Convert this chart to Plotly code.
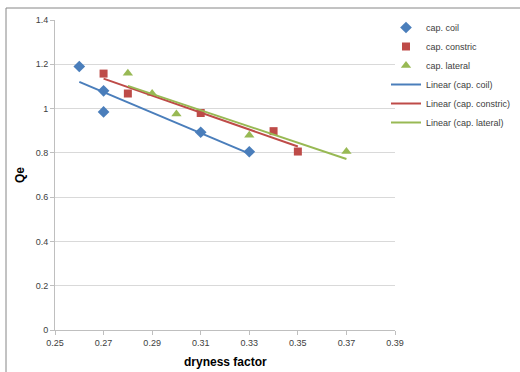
import numpy as np
import plotly.graph_objects as go

coil_x = [0.26, 0.27, 0.27, 0.31, 0.33]
coil_y = [1.19, 1.08, 0.985, 0.893, 0.805]
constric_x = [0.27, 0.28, 0.31, 0.34, 0.35]
constric_y = [1.158, 1.068, 0.98, 0.898, 0.806]
lateral_x = [0.28, 0.29, 0.30, 0.33, 0.37]
lateral_y = [1.16, 1.068, 0.975, 0.88, 0.806]

names = ["cap. coil", "cap. constric", "cap. lateral"]
colors = ["#4a7ebb", "#be4b48", "#98b954"]
symbols = ["diamond", "square", "triangle-up"]
sizes = [9, 8, 9]
series = [(coil_x, coil_y), (constric_x, constric_y), (lateral_x, lateral_y)]

x_ticks = [0.25, 0.27, 0.29, 0.31, 0.33, 0.35, 0.37, 0.39]
y_ticks = [0, 0.2, 0.4, 0.6, 0.8, 1.0, 1.2, 1.4]

font = "Liberation Sans, Arial"
fig = go.Figure()
for (xs, ys), n, c, s, sz in zip(series, names, colors, symbols, sizes):
    fig.add_trace(go.Scatter(x=xs, y=ys, mode="markers", name=n,
                             marker=dict(color=c, symbol=s, size=sz)))
for (xs, ys), n, c in zip(series, names, colors):
    m, b = np.polyfit(xs, ys, 1)
    xl = np.array([min(xs), max(xs)])
    fig.add_trace(go.Scatter(x=xl, y=m * xl + b, mode="lines", name=f"Linear ({n})",
                             line=dict(color=c, width=2)))

fig.update_layout(
    width=520, height=372,
    margin=dict(l=55, r=125, t=20, b=42, autoexpand=False),
    paper_bgcolor="white", plot_bgcolor="white",
    font=dict(family=font, size=9, color="#404040"),
    showlegend=True,
    legend=dict(xref="container", yref="container", x=386/520, y=1 - 13/372,
                xanchor="left", yanchor="top",
                font=dict(family=font, size=9, color="#404040"),
                tracegroupgap=0, itemwidth=30, bgcolor="rgba(0,0,0,0)"),
    xaxis=dict(range=[0.25, 0.39], tickvals=x_ticks, ticktext=[f"{v:.2f}" for v in x_ticks],
               showgrid=False, zeroline=False, showline=True, linecolor="#bfbfbf",
               ticks="outside", ticklen=4, tickcolor="#bfbfbf", automargin=False),
    yaxis=dict(range=[0, 1.4], tickvals=y_ticks, ticktext=["0", "0.2", "0.4", "0.6", "0.8", "1", "1.2", "1.4"],
               showgrid=True, gridcolor="#d9d9d9", zeroline=False, showline=True, linecolor="#bfbfbf",
               ticks="outside", ticklen=4, tickcolor="#bfbfbf", automargin=False),
    annotations=[
        dict(text="<b>dryness factor</b>", xref="paper", yref="paper", x=0.5, y=-32/310,
             xanchor="center", yanchor="middle", showarrow=False,
             font=dict(family=font, size=12, color="#000000")),
        dict(text="<b>Qe</b>", xref="paper", yref="paper", x=-35/340, y=0.5, textangle=-90,
             xanchor="center", yanchor="middle", showarrow=False,
             font=dict(family=font, size=12, color="#000000")),
    ],
    shapes=[
        dict(type="line", xref="paper", yref="paper", x0=-49/340, x1=-49/340, y0=-50/310, y1=1 + 12/310,
             line=dict(color="#868686", width=1)),
        dict(type="line", xref="paper", yref="paper", x0=-49/340, x1=1.5, y0=1 + 12/310, y1=1 + 12/310,
             line=dict(color="#868686", width=1)),
    ],
)
fig.write_html("out.html")
